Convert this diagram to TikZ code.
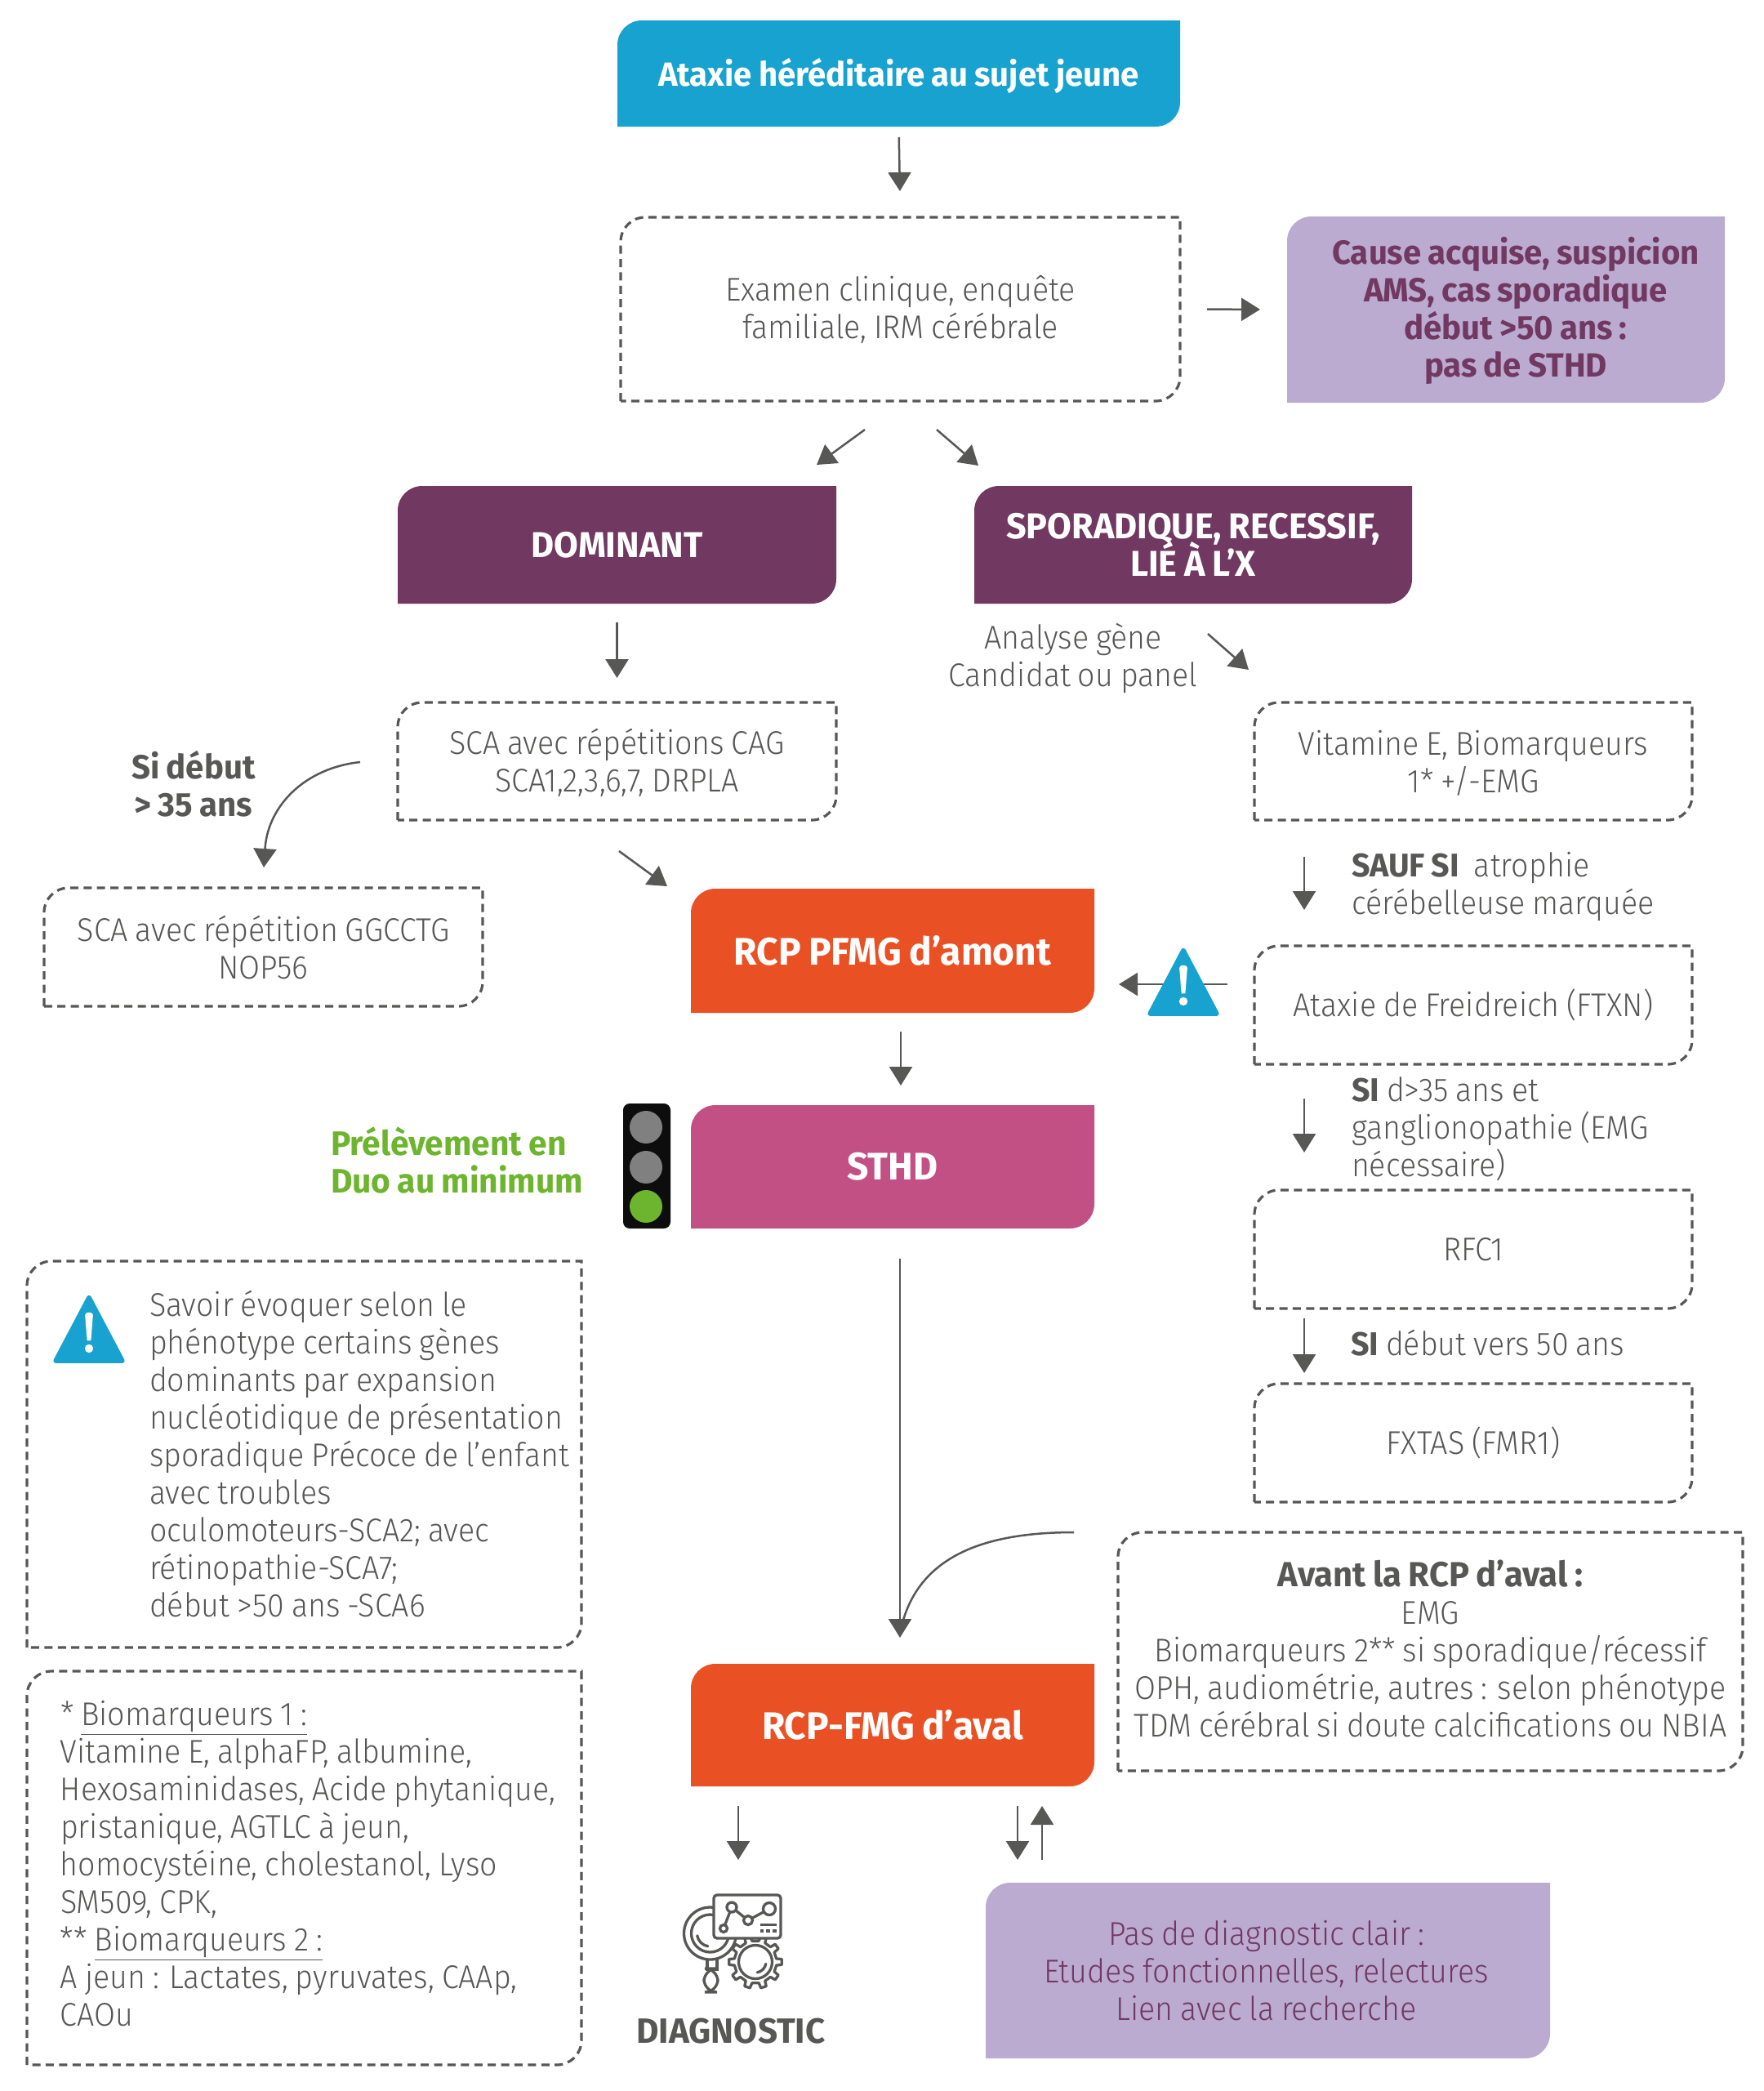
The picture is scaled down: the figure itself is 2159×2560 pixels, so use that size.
\documentclass[tikz,border=0pt]{standalone}
\usepackage{fontspec}
\setmainfont{Fira Sans Light}[FakeStretch=0.935,WordSpace=0.85,BoldFont={Fira Sans Bold},BoldFeatures={FakeStretch=0.98,WordSpace=0.85}]
\usetikzlibrary{arrows.meta,fit}
\definecolor{ink}{HTML}{575756}
\definecolor{sky}{HTML}{17A2CF}
\definecolor{plum}{HTML}{713861}
\definecolor{lilac}{HTML}{BBABD0}
\definecolor{flame}{HTML}{E95125}
\definecolor{rose}{HTML}{C25085}
\definecolor{leaf}{HTML}{6DB52E}
\newcommand{\fsz}[1]{\fontsize{#1}{23}\selectfont\lineskiplimit=-20pt\relax}
\tikzset{
  x=0.5pt,y=-0.5pt,
  every node/.style={inner sep=0pt,outer sep=0pt,text=ink,font=\fsz{20.1}},
  arr/.style={draw=ink,line width=1.25pt,-{Triangle[width=14pt,length=11.5pt]}},
  dashbox/.style={draw=ink,line width=1.6pt,dash pattern=on 5pt off 3.2pt,fill=white},
  skybox/.style={fill=sky},plumbox/.style={fill=plum},lilacbox/.style={fill=lilac},
  flamebox/.style={fill=flame},rosebox/.style={fill=rose},
  whitetxt/.style={text=white,font=\fsz{20.5}\bfseries,yshift=-1.5pt},
  bigwhite/.style={text=white,font=\fsz{23.5}\bfseries},
  midwhite/.style={text=white,font=\fsz{22}\bfseries},
  plumtxt/.style={text=plum,font=\fsz{20.5}\bfseries,xshift=6pt,yshift=-0.8pt},
  plumreg/.style={text=plum,xshift=-1pt},
  lowtxt/.style={yshift=-1pt},
  icon/.style={draw=ink,line width=1.65pt},
}
\newcommand{\leafbox}[8]{%
  \coordinate (#1-a) at (#2,#3);\coordinate (#1-b) at (#4,#5);
  \node[fit=(#1-a)(#1-b)] (#1) {};
  \path[#6] (#1.south west) -- ([yshift=-15pt]#1.north west) arc[start angle=180,end angle=90,radius=15pt]
   -- (#1.north east) -- ([yshift=15pt]#1.south east) arc[start angle=0,end angle=-90,radius=15pt] -- cycle;
  \node[align=center,#7] (#1-t) at (#1.center) {#8};}
\newcommand{\warnicon}[3]{% centre x, top y, scale
  \begin{scope}[shift={(#1,#2)},scale=#3]
  \fill[sky,draw=sky,line width=#3*2.5pt,line join=round] (0,4) -- (38,76) -- (-38,76) -- cycle;
  \fill[white] (-4.5,24) .. controls (-4.5,20) and (4.5,20) .. (4.5,24) -- (2.2,53) -- (-2.2,53) -- cycle;
  \fill[white] (0,62) circle[radius=4.8];
  \end{scope}}
\begin{document}
\begin{tikzpicture}
\useasboundingbox (0,0) rectangle (2159,2560);
% boxes
\leafbox{top}{756}{25}{1445}{155}{skybox}{whitetxt}{Ataxie héréditaire au sujet jeune}
\leafbox{exam}{760}{266}{1445}{491}{dashbox}{}{Examen clinique, enquête\\familiale, IRM cérébrale}
\leafbox{cause}{1576}{265}{2112}{493}{lilacbox}{plumtxt}{Cause acquise, suspicion\\AMS, cas sporadique\\début >50 ans :\\pas de STHD}
\leafbox{dom}{487}{595}{1024}{739}{plumbox}{midwhite}{DOMINANT}
\leafbox{spor}{1193}{595}{1729}{739}{plumbox}{midwhite}{SPORADIQUE, RECESSIF,\\LIÉ À L’X}
\leafbox{cag}{487}{860}{1024}{1004}{dashbox}{lowtxt}{SCA avec répétitions CAG\\SCA1,2,3,6,7, DRPLA}
\leafbox{vite}{1536}{860}{2072}{1004}{dashbox}{lowtxt}{Vitamine E, Biomarqueurs\\1* +/-EMG}
\leafbox{nop}{54}{1087}{591}{1232}{dashbox}{}{SCA avec répétition GGCCTG\\NOP56}
\leafbox{amont}{846}{1088}{1340}{1240}{flamebox}{bigwhite}{RCP PFMG d’amont}
\leafbox{sthd}{846}{1353}{1340}{1504}{rosebox}{bigwhite}{STHD}
\leafbox{freid}{1536}{1158}{2072}{1303}{dashbox}{}{Ataxie de Freidreich (FTXN)}
\leafbox{rfc}{1536}{1457}{2072}{1602}{dashbox}{}{RFC1}
\leafbox{fxtas}{1536}{1694}{2072}{1839}{dashbox}{}{FXTAS (FMR1)}
\leafbox{aval}{846}{2037}{1340}{2187}{flamebox}{bigwhite}{RCP-FMG d’aval}
\leafbox{avant}{1369}{1876}{2134}{2168}{dashbox}{yshift=2pt}{{\fsz{21.3}\bfseries Avant la RCP d’aval :}\\EMG\\Biomarqueurs 2** si sporadique/récessif\\OPH, audiométrie, autres : selon phénotype\\TDM cérébral si doute calcifications ou NBIA}
\leafbox{pas}{1207}{2305}{1898}{2520}{lilacbox}{plumreg}{Pas de diagnostic clair :\\Etudes fonctionnelles, relectures\\Lien avec la recherche}
\leafbox{savoir}{33}{1544}{712}{2017}{dashbox}{}{}
\leafbox{bio}{33}{2046}{712}{2528}{dashbox}{}{}
% free labels
\node[align=center] (analyse) at (1314,806) {Analyse gène\\Candidat ou panel};
\node[align=center,font=\fsz{20.5}\bfseries] (sidebut) at (237,960) {Si début\\> 35 ans};
\node[align=left,anchor=west] (sauf) at (1655,1085) {\textbf{SAUF SI} ~atrophie\\cérébelleuse marquée};
\node[align=left,anchor=west] (si35) at (1655,1382) {\textbf{SI} d>35 ans et\\ganglionopathie (EMG\\nécessaire)};
\node[anchor=west] (si50) at (1654,1644) {\textbf{SI} début vers 50 ans};
\node[align=left,anchor=west,text=leaf,font=\fsz{20.8}\bfseries] (prel) at (405,1420) {Prélèvement en\\Duo au minimum};
\node[align=left,anchor=west] (savoirtxt) at (183,1779.5) {Savoir évoquer selon le\\phénotype certains gènes\\dominants par expansion\\nucléotidique de présentation\\sporadique Précoce de l’enfant\\avec troubles\\oculomoteurs-SCA2; avec\\rétinopathie-SCA7;\\début >50 ans -SCA6};
\node[align=left,anchor=west] (biotxt) at (74,2281.5) {* \underline{Biomarqueurs 1 :}\\Vitamine E, alphaFP, albumine,\\Hexosaminidases, Acide phytanique,\\pristanique, AGTLC à jeun,\\homocystéine, cholestanol, Lyso\\SM509, CPK,\\** \underline{Biomarqueurs 2 :}\\A jeun : Lactates, pyruvates, CAAp,\\CAOu};
\node[font=\fsz{21.5}\bfseries] (diag) at (895,2487) {DIAGNOSTIC};
% connectors
\draw[arr,shorten <=6.5pt,shorten >=16pt] (top.south) -- (exam.north);
\draw[arr,shorten <=16.5pt,shorten >=16.5pt] (exam.east) -- (cause.west);
\coordinate (d1) at (1059,526);\coordinate (d2) at (1000,569);\draw[arr] (d1) -- (d2);
\coordinate (s1) at (1147,526);\coordinate (s2) at (1198,570);\draw[arr] (s1) -- (s2);
\draw[arr,shorten <=11.5pt,shorten >=15pt] (dom.south) -- (cag.north);
\coordinate (v1) at (1479,776);\coordinate (v2) at (1529,820);\draw[arr] (v1) -- (v2);
\coordinate (c1) at (441,933);\coordinate (c2) at (323,1062);
\draw[arr] (c1) .. controls (375,940) and (328,985) .. (c2);
\coordinate (e1) at (758,1042);\coordinate (e2) at (817,1085);\draw[arr] (e1) -- (e2);
\coordinate (f1) at (1597,1049);\coordinate (f2) at (1597,1114);\draw[arr] (f1) -- (f2);
\coordinate (w1) at (1503,1205);\coordinate (w2) at (1370,1205);\draw[arr] (w1) -- (w2);
\coordinate (h1) at (1103,1263);\coordinate (h2) at (1103,1329);\draw[arr] (h1) -- (h2);
\coordinate (g1) at (1597,1345);\coordinate (g2) at (1597,1411);\draw[arr] (g1) -- (g2);
\coordinate (r1) at (1597,1614);\coordinate (r2) at (1597,1681);\draw[arr] (r1) -- (r2);
\coordinate (t1) at (1102,1541);\coordinate (t2) at (1102,2005);\draw[arr] (t1) -- (t2);
\coordinate (q1) at (1315,1876);
\draw[draw=ink,line width=1.25pt] (q1) .. controls (1205,1876) and (1120,1905) .. (1102,2000);
\coordinate (x1) at (904,2211);\coordinate (x2) at (904,2277);\draw[arr] (x1) -- (x2);
\coordinate (y1) at (1246,2211);\coordinate (y2) at (1246,2277);\draw[arr] (y1) -- (y2);
\coordinate (z1) at (1276,2277);\coordinate (z2) at (1276,2211);\draw[arr] (z1) -- (z2);
% warning icons
\warnicon{1449}{1159}{1.08}
\warnicon{109}{1584}{1.08}
% traffic light
\fill[black!95,rounded corners=4pt] (763,1351) rectangle (821,1504);
\fill[black!50] (791,1380) circle[radius=20];
\fill[black!50] (791,1429) circle[radius=20];
\fill[leaf] (791,1477) circle[radius=20];
% diagnostic icon
\begin{scope}[shift={(3,1)}]
\begin{scope}[shift={(922,2401)}]
\draw[icon,line join=round] (-9:26) \foreach \a in {0,36,...,324}{ -- (\a-9:26) -- (\a-6:32.5) -- (\a+6:32.5) -- (\a+9:26)} -- cycle;
\draw[icon] (0,0) circle[radius=20.5];
\draw[icon,line cap=round] (10:13) arc[start angle=10,end angle=80,radius=13];
\end{scope}
\draw[icon,fill=white] (863,2396) rectangle (875,2410);
\draw[icon,fill=white,rounded corners=8pt] (859,2409) rectangle (876,2438);
\draw[icon,fill=white] (866.5,2366) circle[radius=32];
\draw[icon] (866.5,2366) circle[radius=23];
\draw[icon,line cap=round] (866.5,2366) ++(170:16) arc[start angle=170,end angle=100,radius=16];
\draw[icon,fill=white,rounded corners=2pt] (871,2319) rectangle (953,2372);
\draw[icon] (883,2360) -- (893,2334) -- (913,2350) -- (939,2336);
\draw[icon,fill=white] (883,2360) circle[radius=4.5];
\draw[icon,fill=white] (893,2334) circle[radius=6];
\draw[icon,fill=white] (913,2350) circle[radius=5.5];
\draw[icon,fill=white] (939,2336) circle[radius=7.5];
\fill[ink] (928,2354) rectangle (948,2357);
\fill[ink] (928,2361) rectangle (932,2365);
\fill[ink] (935,2361) rectangle (940,2365);
\fill[ink] (943,2361) rectangle (948,2365);
\end{scope}
\end{tikzpicture}
\end{document}
